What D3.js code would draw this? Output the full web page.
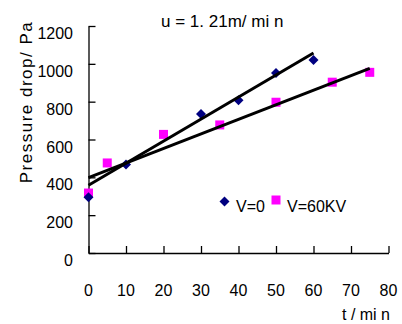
<!DOCTYPE html>
<html><head><meta charset="utf-8">
<script src="https://cdn.jsdelivr.net/npm/d3@7"></script>
<style>
body{margin:0;background:#fff;}
text{font-family:"Liberation Sans",Arial,sans-serif;fill:#000;}
</style></head>
<body><svg id="c" width="402" height="324"></svg>
<script>
const xTicks=[0,10,20,30,40,50,60,70,80];
const yTicks=[0,200,400,600,800,1000,1200];
const tV0=[0,10,30,40,50,60];
const pV0=[295,468,735,808,952,1020];
const tV60=[0,5,20,35,50,65,75];
const pV60=[317,476,627,677,797,903,955];
// trend lines: [t, pressure] end points
const trendV0=[[0,358],[60,1057]];
const trendV60=[[0,398],[75,976]];
const seriesNames=["V=0","V=60KV"];
const title="u = 1. 21m/ mi n";
const yTitle="Pressure drop/ Pa";
const xTitle="t / mi n";

const svg=d3.select("#c");
const x=d3.scaleLinear().domain([0,80]).range([88.5,388.5]);
const y=d3.scaleLinear().domain([0,1200]).range([253,26]);

const xa=svg.append("g").attr("transform","translate(0,253)")
  .call(d3.axisBottom(x).tickValues(xTicks).tickSizeInner(-7).tickSizeOuter(0).tickFormat(""));
const ya=svg.append("g").attr("transform","translate(88.5,0)")
  .call(d3.axisLeft(y).tickValues(yTicks).tickSizeInner(-7).tickSizeOuter(0).tickFormat(""));
[xa,ya].forEach(a=>{a.selectAll("path,line").attr("stroke","#000").attr("stroke-width",1.3);});

svg.append("g").selectAll("text").data(xTicks).join("text")
  .attr("x",d=>x(d)).attr("y",296).attr("text-anchor","middle")
  .attr("font-size",16).text(d=>d);
svg.append("g").selectAll("text").data(yTicks).join("text")
  .attr("x",73).attr("y",d=>y(d)+13).attr("text-anchor","end")
  .attr("font-size",16).text(d=>d);

const sq=d3.symbol().type(d3.symbolSquare).size(81);
const dm=d3.symbol().type(d3.symbolSquare).size(50);
svg.append("g").selectAll("path").data(tV60.map((t,i)=>[t,pV60[i]])).join("path")
  .attr("d",sq).attr("transform",d=>`translate(${x(d[0])},${y(d[1])})`).attr("fill","#FF00FF");
svg.append("g").selectAll("path").data(tV0.map((t,i)=>[t,pV0[i]])).join("path")
  .attr("d",dm).attr("transform",d=>`translate(${x(d[0])},${y(d[1])}) rotate(45)`).attr("fill","#000080");

const line=d3.line().x(d=>x(d[0])).y(d=>y(d[1]));
[trendV0,trendV60].forEach(t=>svg.append("path").attr("d",line(t))
  .attr("fill","none").attr("stroke","#000").attr("stroke-width",3));

svg.append("path").attr("d",dm).attr("transform","translate(224.5,201.5) rotate(45)").attr("fill","#000080");
svg.append("text").attr("x",236).attr("y",211.5).attr("font-size",16).text(seriesNames[0]);
svg.append("path").attr("d",sq).attr("transform","translate(276,200)").attr("fill","#FF00FF");
svg.append("text").attr("x",287).attr("y",211.5).attr("font-size",16).text(seriesNames[1]);

svg.append("text").attr("x",161).attr("y",27).attr("font-size",17).text(title);
svg.append("text").attr("x",342).attr("y",320).attr("font-size",16).text(xTitle);
svg.append("text").attr("transform","translate(32,102) rotate(-90)").attr("text-anchor","middle")
  .attr("font-size",17).attr("letter-spacing",1.5).text(yTitle);
</script></body></html>
